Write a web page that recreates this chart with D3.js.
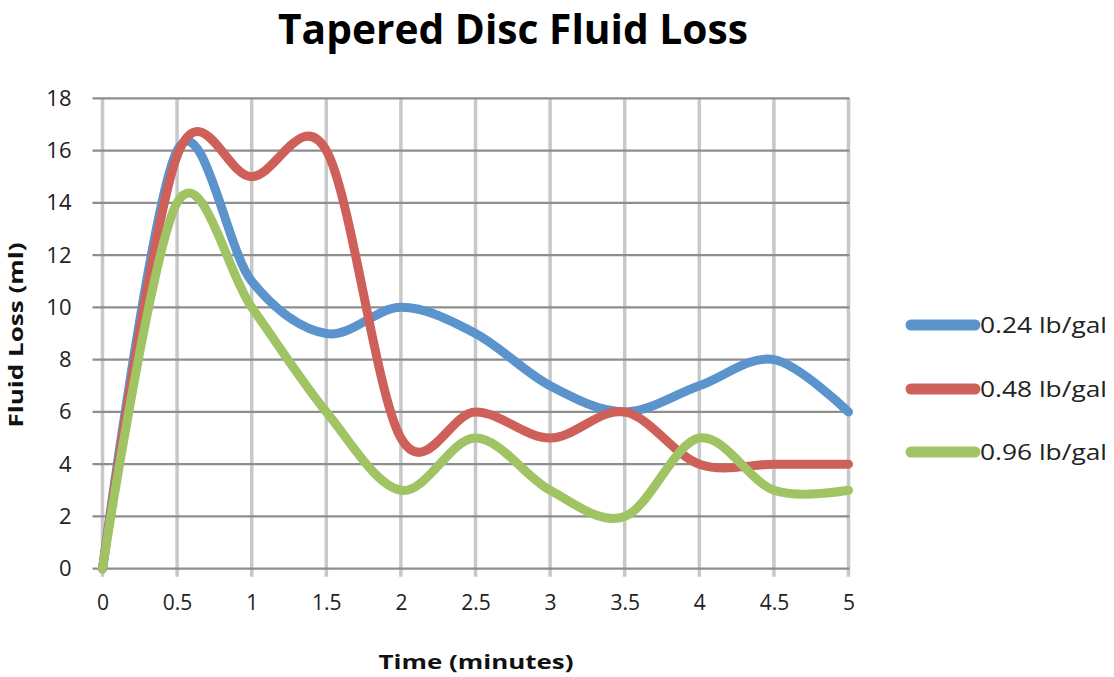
<!DOCTYPE html>
<html><head><meta charset="utf-8">
<script src="https://cdn.jsdelivr.net/npm/d3@7"></script>
<style>body{margin:0;background:#fff}svg{display:block}</style>
</head><body>
<svg id="c" width="1114" height="677"></svg>
<script>
const times = [0, 0.5, 1, 1.5, 2, 2.5, 3, 3.5, 4, 4.5, 5];
const seriesNames = ["0.24 lb/gal", "0.48 lb/gal", "0.96 lb/gal"];
const blueVals  = [0, 16, 11, 9, 10, 9, 7, 6, 7, 8, 6];
const redVals   = [0, 15.8, 15, 16, 5, 6, 5, 6, 4, 4, 4];
const greenVals = [0, 14, 10, 6, 3, 5, 3, 2, 5, 3, 3];
const xTicks = [0, 0.5, 1, 1.5, 2, 2.5, 3, 3.5, 4, 4.5, 5];
const xTickLabels = ["0", "0.5", "1", "1.5", "2", "2.5", "3", "3.5", "4", "4.5", "5"];
const yTicks = [0, 2, 4, 6, 8, 10, 12, 14, 16, 18];
const colors = ["#5b93cd", "#cf5f59", "#a0c463"];
const titleText = "Tapered Disc Fluid Loss";
const xTitle = "Time (minutes)";
const yTitle = "Fluid Loss (ml)";

const svg = d3.select("#c");
const FONT = "'Open Sans', 'DejaVu Sans', sans-serif";
const x = d3.scaleLinear().domain([0, 5]).range([102.5, 848.5]);
const y = d3.scaleLinear().domain([0, 18]).range([568.7, 98.3]);

// vertical grid
svg.append("g").selectAll("line").data(xTicks).join("line")
  .attr("x1", d => x(d)).attr("x2", d => x(d))
  .attr("y1", y(18)).attr("y2", y(0) + 8)
  .attr("stroke", "#c8c8c8").attr("stroke-width", 3.5);
// horizontal grid
svg.append("g").selectAll("line").data(yTicks).join("line")
  .attr("x1", x(0) - 10).attr("x2", x(5) + 1)
  .attr("y1", d => y(d)).attr("y2", d => y(d))
  .attr("stroke", "#8e8e8e").attr("stroke-width", 2.2);

// y axis labels
const ya = svg.append("g").attr("transform", `translate(${x(0) - 10},0)`)
  .call(d3.axisLeft(y).tickValues(yTicks).tickSize(0).tickPadding(21).tickFormat(d3.format("d")));
ya.select(".domain").remove();
ya.selectAll("text").attr("font-family", FONT).attr("font-size", 22).attr("fill", "#222");

// x axis labels
const xa = svg.append("g").attr("transform", `translate(0,${y(0)})`)
  .call(d3.axisBottom(x).tickValues(xTicks).tickSize(0).tickPadding(26).tickFormat((d, i) => xTickLabels[i]));
xa.select(".domain").remove();
xa.selectAll("text").attr("font-family", FONT).attr("font-size", 21).attr("fill", "#222");

// series
const line = d3.line().x(d => x(d[0])).y(d => y(d[1])).curve(d3.curveCardinal.tension(0));
const allVals = [blueVals, redVals, greenVals];
allVals.forEach((vals, i) => {
  svg.append("path").datum(times.map((t, j) => [t, vals[j]]))
    .attr("d", line).attr("fill", "none").attr("stroke", colors[i])
    .attr("stroke-width", 9).attr("stroke-linejoin", "round").attr("stroke-linecap", "round");
});

// title (horizontally condensed via scale to mimic the narrow original face)
const tg = svg.append("g");
const tt = tg.append("text").attr("x", 0).attr("y", 0).attr("text-anchor", "middle")
  .attr("font-family", FONT).attr("font-weight", "bold").attr("font-size", 41)
  .attr("fill", "#000").text(titleText);
const tw = tt.node().getComputedTextLength();
tg.attr("transform", `translate(513,44) scale(${Math.min(1, 470 / tw)},1)`);

// axis titles
svg.append("text").attr("x", 476).attr("y", 669).attr("text-anchor", "middle")
  .attr("font-family", FONT).attr("font-weight", "bold").attr("font-size", 20)
  .attr("textLength", 195).attr("lengthAdjust", "spacingAndGlyphs").attr("fill", "#111")
  .text(xTitle);
svg.append("text").attr("transform", "translate(23,335) rotate(-90)").attr("text-anchor", "middle")
  .attr("font-family", FONT).attr("font-weight", "bold").attr("font-size", 20)
  .attr("textLength", 185).attr("lengthAdjust", "spacingAndGlyphs").attr("fill", "#111")
  .text(yTitle);

// legend
const legY = [325, 389, 452];
const lg = svg.append("g").selectAll("g").data(seriesNames).join("g")
  .attr("transform", (d, i) => `translate(0,${legY[i]})`);
lg.append("line").attr("x1", 911).attr("x2", 975).attr("y1", 0).attr("y2", 0)
  .attr("stroke", (d, i) => colors[i]).attr("stroke-width", 11).attr("stroke-linecap", "round");
lg.append("text").attr("x", 980).attr("y", 8)
  .attr("font-family", FONT).attr("font-size", 22)
  .attr("textLength", 127).attr("lengthAdjust", "spacingAndGlyphs").attr("fill", "#222")
  .text(d => d);
</script>
</body></html>
